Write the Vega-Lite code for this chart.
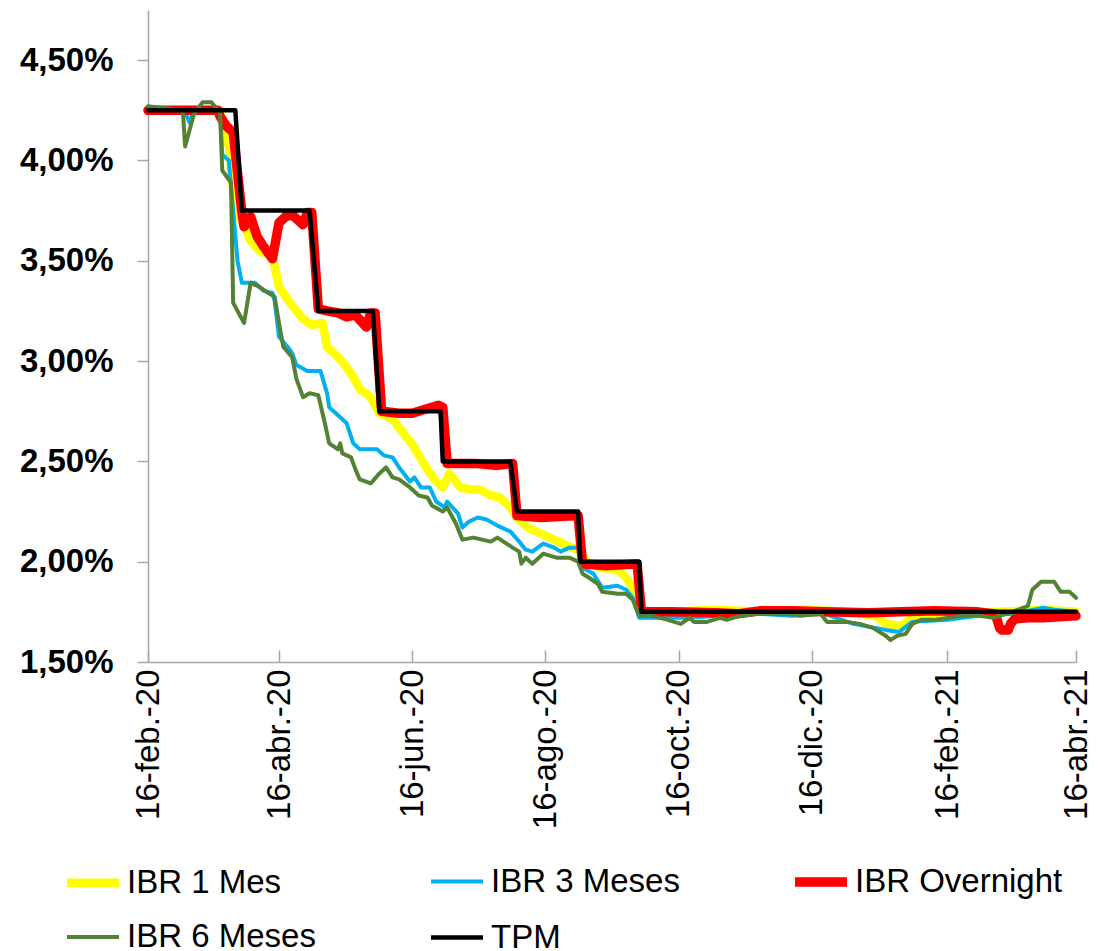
{
  "$schema": "https://vega.github.io/schema/vega-lite/v6.json",
  "width": 928,
  "height": 652,
  "padding": {"left": 19, "top": 10, "right": 5, "bottom": 5},
  "background": "white",
  "config": {"view": {"stroke": null}, "font": "Liberation Sans"},
  "data": {"values": [
    {"fecha": "2020-02-16", "serie": "IBR 1 Mes", "tasa": 4.25},
    {"fecha": "2020-03-01", "serie": "IBR 1 Mes", "tasa": 4.25},
    {"fecha": "2020-03-20", "serie": "IBR 1 Mes", "tasa": 4.25},
    {"fecha": "2020-03-21", "serie": "IBR 1 Mes", "tasa": 4.19},
    {"fecha": "2020-03-24", "serie": "IBR 1 Mes", "tasa": 4.07},
    {"fecha": "2020-03-26", "serie": "IBR 1 Mes", "tasa": 3.85},
    {"fecha": "2020-03-29", "serie": "IBR 1 Mes", "tasa": 3.72},
    {"fecha": "2020-04-03", "serie": "IBR 1 Mes", "tasa": 3.60},
    {"fecha": "2020-04-07", "serie": "IBR 1 Mes", "tasa": 3.55},
    {"fecha": "2020-04-13", "serie": "IBR 1 Mes", "tasa": 3.52},
    {"fecha": "2020-04-16", "serie": "IBR 1 Mes", "tasa": 3.37},
    {"fecha": "2020-04-18", "serie": "IBR 1 Mes", "tasa": 3.34},
    {"fecha": "2020-04-21", "serie": "IBR 1 Mes", "tasa": 3.29},
    {"fecha": "2020-04-24", "serie": "IBR 1 Mes", "tasa": 3.25},
    {"fecha": "2020-04-27", "serie": "IBR 1 Mes", "tasa": 3.21},
    {"fecha": "2020-05-01", "serie": "IBR 1 Mes", "tasa": 3.18},
    {"fecha": "2020-05-06", "serie": "IBR 1 Mes", "tasa": 3.19},
    {"fecha": "2020-05-08", "serie": "IBR 1 Mes", "tasa": 3.07},
    {"fecha": "2020-05-13", "serie": "IBR 1 Mes", "tasa": 3.02},
    {"fecha": "2020-05-17", "serie": "IBR 1 Mes", "tasa": 2.97},
    {"fecha": "2020-05-20", "serie": "IBR 1 Mes", "tasa": 2.92},
    {"fecha": "2020-05-23", "serie": "IBR 1 Mes", "tasa": 2.86},
    {"fecha": "2020-05-28", "serie": "IBR 1 Mes", "tasa": 2.82},
    {"fecha": "2020-06-01", "serie": "IBR 1 Mes", "tasa": 2.74},
    {"fecha": "2020-06-07", "serie": "IBR 1 Mes", "tasa": 2.71},
    {"fecha": "2020-06-12", "serie": "IBR 1 Mes", "tasa": 2.64},
    {"fecha": "2020-06-15", "serie": "IBR 1 Mes", "tasa": 2.60},
    {"fecha": "2020-06-18", "serie": "IBR 1 Mes", "tasa": 2.55},
    {"fecha": "2020-06-23", "serie": "IBR 1 Mes", "tasa": 2.46},
    {"fecha": "2020-06-27", "serie": "IBR 1 Mes", "tasa": 2.40},
    {"fecha": "2020-06-30", "serie": "IBR 1 Mes", "tasa": 2.37},
    {"fecha": "2020-07-03", "serie": "IBR 1 Mes", "tasa": 2.44},
    {"fecha": "2020-07-08", "serie": "IBR 1 Mes", "tasa": 2.37},
    {"fecha": "2020-07-13", "serie": "IBR 1 Mes", "tasa": 2.36},
    {"fecha": "2020-07-17", "serie": "IBR 1 Mes", "tasa": 2.36},
    {"fecha": "2020-07-22", "serie": "IBR 1 Mes", "tasa": 2.33},
    {"fecha": "2020-07-26", "serie": "IBR 1 Mes", "tasa": 2.32},
    {"fecha": "2020-07-31", "serie": "IBR 1 Mes", "tasa": 2.27},
    {"fecha": "2020-08-03", "serie": "IBR 1 Mes", "tasa": 2.22},
    {"fecha": "2020-08-08", "serie": "IBR 1 Mes", "tasa": 2.17},
    {"fecha": "2020-08-14", "serie": "IBR 1 Mes", "tasa": 2.14},
    {"fecha": "2020-08-20", "serie": "IBR 1 Mes", "tasa": 2.11},
    {"fecha": "2020-08-26", "serie": "IBR 1 Mes", "tasa": 2.08},
    {"fecha": "2020-08-31", "serie": "IBR 1 Mes", "tasa": 2.06},
    {"fecha": "2020-09-04", "serie": "IBR 1 Mes", "tasa": 2.00},
    {"fecha": "2020-09-10", "serie": "IBR 1 Mes", "tasa": 1.97},
    {"fecha": "2020-09-18", "serie": "IBR 1 Mes", "tasa": 1.96},
    {"fecha": "2020-09-22", "serie": "IBR 1 Mes", "tasa": 1.92},
    {"fecha": "2020-09-25", "serie": "IBR 1 Mes", "tasa": 1.87},
    {"fecha": "2020-09-27", "serie": "IBR 1 Mes", "tasa": 1.79},
    {"fecha": "2020-09-30", "serie": "IBR 1 Mes", "tasa": 1.74},
    {"fecha": "2020-10-13", "serie": "IBR 1 Mes", "tasa": 1.75},
    {"fecha": "2020-11-02", "serie": "IBR 1 Mes", "tasa": 1.76},
    {"fecha": "2020-11-22", "serie": "IBR 1 Mes", "tasa": 1.75},
    {"fecha": "2020-12-12", "serie": "IBR 1 Mes", "tasa": 1.76},
    {"fecha": "2021-01-01", "serie": "IBR 1 Mes", "tasa": 1.75},
    {"fecha": "2021-01-14", "serie": "IBR 1 Mes", "tasa": 1.73},
    {"fecha": "2021-01-19", "serie": "IBR 1 Mes", "tasa": 1.69},
    {"fecha": "2021-01-26", "serie": "IBR 1 Mes", "tasa": 1.68},
    {"fecha": "2021-01-31", "serie": "IBR 1 Mes", "tasa": 1.72},
    {"fecha": "2021-02-16", "serie": "IBR 1 Mes", "tasa": 1.74},
    {"fecha": "2021-03-12", "serie": "IBR 1 Mes", "tasa": 1.75},
    {"fecha": "2021-04-01", "serie": "IBR 1 Mes", "tasa": 1.76},
    {"fecha": "2021-04-16", "serie": "IBR 1 Mes", "tasa": 1.75},

    {"fecha": "2020-02-16", "serie": "IBR 3 Meses", "tasa": 4.25},
    {"fecha": "2020-03-02", "serie": "IBR 3 Meses", "tasa": 4.25},
    {"fecha": "2020-03-04", "serie": "IBR 3 Meses", "tasa": 4.24},
    {"fecha": "2020-03-06", "serie": "IBR 3 Meses", "tasa": 4.19},
    {"fecha": "2020-03-08", "serie": "IBR 3 Meses", "tasa": 4.25},
    {"fecha": "2020-03-20", "serie": "IBR 3 Meses", "tasa": 4.25},
    {"fecha": "2020-03-21", "serie": "IBR 3 Meses", "tasa": 4.03},
    {"fecha": "2020-03-24", "serie": "IBR 3 Meses", "tasa": 4.00},
    {"fecha": "2020-03-26", "serie": "IBR 3 Meses", "tasa": 3.75},
    {"fecha": "2020-03-28", "serie": "IBR 3 Meses", "tasa": 3.50},
    {"fecha": "2020-03-30", "serie": "IBR 3 Meses", "tasa": 3.39},
    {"fecha": "2020-04-05", "serie": "IBR 3 Meses", "tasa": 3.39},
    {"fecha": "2020-04-09", "serie": "IBR 3 Meses", "tasa": 3.35},
    {"fecha": "2020-04-13", "serie": "IBR 3 Meses", "tasa": 3.34},
    {"fecha": "2020-04-14", "serie": "IBR 3 Meses", "tasa": 3.30},
    {"fecha": "2020-04-16", "serie": "IBR 3 Meses", "tasa": 3.12},
    {"fecha": "2020-04-20", "serie": "IBR 3 Meses", "tasa": 3.07},
    {"fecha": "2020-04-22", "serie": "IBR 3 Meses", "tasa": 3.04},
    {"fecha": "2020-04-24", "serie": "IBR 3 Meses", "tasa": 2.98},
    {"fecha": "2020-04-29", "serie": "IBR 3 Meses", "tasa": 2.95},
    {"fecha": "2020-05-05", "serie": "IBR 3 Meses", "tasa": 2.95},
    {"fecha": "2020-05-08", "serie": "IBR 3 Meses", "tasa": 2.84},
    {"fecha": "2020-05-09", "serie": "IBR 3 Meses", "tasa": 2.77},
    {"fecha": "2020-05-14", "serie": "IBR 3 Meses", "tasa": 2.72},
    {"fecha": "2020-05-17", "serie": "IBR 3 Meses", "tasa": 2.69},
    {"fecha": "2020-05-20", "serie": "IBR 3 Meses", "tasa": 2.59},
    {"fecha": "2020-05-23", "serie": "IBR 3 Meses", "tasa": 2.56},
    {"fecha": "2020-05-31", "serie": "IBR 3 Meses", "tasa": 2.56},
    {"fecha": "2020-06-03", "serie": "IBR 3 Meses", "tasa": 2.53},
    {"fecha": "2020-06-07", "serie": "IBR 3 Meses", "tasa": 2.52},
    {"fecha": "2020-06-10", "serie": "IBR 3 Meses", "tasa": 2.47},
    {"fecha": "2020-06-15", "serie": "IBR 3 Meses", "tasa": 2.40},
    {"fecha": "2020-06-17", "serie": "IBR 3 Meses", "tasa": 2.42},
    {"fecha": "2020-06-20", "serie": "IBR 3 Meses", "tasa": 2.37},
    {"fecha": "2020-06-24", "serie": "IBR 3 Meses", "tasa": 2.37},
    {"fecha": "2020-06-27", "serie": "IBR 3 Meses", "tasa": 2.30},
    {"fecha": "2020-07-01", "serie": "IBR 3 Meses", "tasa": 2.27},
    {"fecha": "2020-07-02", "serie": "IBR 3 Meses", "tasa": 2.30},
    {"fecha": "2020-07-07", "serie": "IBR 3 Meses", "tasa": 2.24},
    {"fecha": "2020-07-09", "serie": "IBR 3 Meses", "tasa": 2.17},
    {"fecha": "2020-07-12", "serie": "IBR 3 Meses", "tasa": 2.20},
    {"fecha": "2020-07-16", "serie": "IBR 3 Meses", "tasa": 2.22},
    {"fecha": "2020-07-20", "serie": "IBR 3 Meses", "tasa": 2.21},
    {"fecha": "2020-07-25", "serie": "IBR 3 Meses", "tasa": 2.18},
    {"fecha": "2020-07-31", "serie": "IBR 3 Meses", "tasa": 2.15},
    {"fecha": "2020-08-04", "serie": "IBR 3 Meses", "tasa": 2.10},
    {"fecha": "2020-08-07", "serie": "IBR 3 Meses", "tasa": 2.06},
    {"fecha": "2020-08-10", "serie": "IBR 3 Meses", "tasa": 2.05},
    {"fecha": "2020-08-15", "serie": "IBR 3 Meses", "tasa": 2.09},
    {"fecha": "2020-08-20", "serie": "IBR 3 Meses", "tasa": 2.07},
    {"fecha": "2020-08-23", "serie": "IBR 3 Meses", "tasa": 2.05},
    {"fecha": "2020-08-27", "serie": "IBR 3 Meses", "tasa": 2.07},
    {"fecha": "2020-08-31", "serie": "IBR 3 Meses", "tasa": 2.07},
    {"fecha": "2020-09-02", "serie": "IBR 3 Meses", "tasa": 1.97},
    {"fecha": "2020-09-07", "serie": "IBR 3 Meses", "tasa": 1.94},
    {"fecha": "2020-09-11", "serie": "IBR 3 Meses", "tasa": 1.87},
    {"fecha": "2020-09-18", "serie": "IBR 3 Meses", "tasa": 1.88},
    {"fecha": "2020-09-22", "serie": "IBR 3 Meses", "tasa": 1.86},
    {"fecha": "2020-09-25", "serie": "IBR 3 Meses", "tasa": 1.82},
    {"fecha": "2020-09-28", "serie": "IBR 3 Meses", "tasa": 1.72},
    {"fecha": "2020-10-04", "serie": "IBR 3 Meses", "tasa": 1.72},
    {"fecha": "2020-10-20", "serie": "IBR 3 Meses", "tasa": 1.72},
    {"fecha": "2020-11-04", "serie": "IBR 3 Meses", "tasa": 1.73},
    {"fecha": "2020-11-22", "serie": "IBR 3 Meses", "tasa": 1.74},
    {"fecha": "2020-12-07", "serie": "IBR 3 Meses", "tasa": 1.73},
    {"fecha": "2020-12-22", "serie": "IBR 3 Meses", "tasa": 1.74},
    {"fecha": "2021-01-04", "serie": "IBR 3 Meses", "tasa": 1.69},
    {"fecha": "2021-01-19", "serie": "IBR 3 Meses", "tasa": 1.66},
    {"fecha": "2021-01-25", "serie": "IBR 3 Meses", "tasa": 1.65},
    {"fecha": "2021-01-31", "serie": "IBR 3 Meses", "tasa": 1.70},
    {"fecha": "2021-02-16", "serie": "IBR 3 Meses", "tasa": 1.71},
    {"fecha": "2021-03-02", "serie": "IBR 3 Meses", "tasa": 1.73},
    {"fecha": "2021-03-18", "serie": "IBR 3 Meses", "tasa": 1.74},
    {"fecha": "2021-03-27", "serie": "IBR 3 Meses", "tasa": 1.76},
    {"fecha": "2021-04-01", "serie": "IBR 3 Meses", "tasa": 1.77},
    {"fecha": "2021-04-06", "serie": "IBR 3 Meses", "tasa": 1.76},
    {"fecha": "2021-04-16", "serie": "IBR 3 Meses", "tasa": 1.75},

    {"fecha": "2020-02-16", "serie": "IBR Overnight", "tasa": 4.25},
    {"fecha": "2020-03-19", "serie": "IBR Overnight", "tasa": 4.25},
    {"fecha": "2020-03-20", "serie": "IBR Overnight", "tasa": 4.22},
    {"fecha": "2020-03-23", "serie": "IBR Overnight", "tasa": 4.17},
    {"fecha": "2020-03-26", "serie": "IBR Overnight", "tasa": 4.14},
    {"fecha": "2020-03-28", "serie": "IBR Overnight", "tasa": 3.94},
    {"fecha": "2020-03-30", "serie": "IBR Overnight", "tasa": 3.74},
    {"fecha": "2020-03-31", "serie": "IBR Overnight", "tasa": 3.67},
    {"fecha": "2020-04-03", "serie": "IBR Overnight", "tasa": 3.72},
    {"fecha": "2020-04-06", "serie": "IBR Overnight", "tasa": 3.62},
    {"fecha": "2020-04-09", "serie": "IBR Overnight", "tasa": 3.57},
    {"fecha": "2020-04-13", "serie": "IBR Overnight", "tasa": 3.51},
    {"fecha": "2020-04-16", "serie": "IBR Overnight", "tasa": 3.69},
    {"fecha": "2020-04-19", "serie": "IBR Overnight", "tasa": 3.72},
    {"fecha": "2020-04-22", "serie": "IBR Overnight", "tasa": 3.73},
    {"fecha": "2020-04-25", "serie": "IBR Overnight", "tasa": 3.70},
    {"fecha": "2020-04-27", "serie": "IBR Overnight", "tasa": 3.68},
    {"fecha": "2020-04-29", "serie": "IBR Overnight", "tasa": 3.74},
    {"fecha": "2020-05-01", "serie": "IBR Overnight", "tasa": 3.74},
    {"fecha": "2020-05-04", "serie": "IBR Overnight", "tasa": 3.26},
    {"fecha": "2020-05-08", "serie": "IBR Overnight", "tasa": 3.25},
    {"fecha": "2020-05-13", "serie": "IBR Overnight", "tasa": 3.24},
    {"fecha": "2020-05-17", "serie": "IBR Overnight", "tasa": 3.22},
    {"fecha": "2020-05-21", "serie": "IBR Overnight", "tasa": 3.23},
    {"fecha": "2020-05-26", "serie": "IBR Overnight", "tasa": 3.17},
    {"fecha": "2020-05-28", "serie": "IBR Overnight", "tasa": 3.24},
    {"fecha": "2020-05-30", "serie": "IBR Overnight", "tasa": 3.24},
    {"fecha": "2020-06-02", "serie": "IBR Overnight", "tasa": 2.75},
    {"fecha": "2020-06-10", "serie": "IBR Overnight", "tasa": 2.74},
    {"fecha": "2020-06-16", "serie": "IBR Overnight", "tasa": 2.74},
    {"fecha": "2020-06-22", "serie": "IBR Overnight", "tasa": 2.76},
    {"fecha": "2020-06-28", "serie": "IBR Overnight", "tasa": 2.78},
    {"fecha": "2020-06-30", "serie": "IBR Overnight", "tasa": 2.77},
    {"fecha": "2020-07-02", "serie": "IBR Overnight", "tasa": 2.49},
    {"fecha": "2020-07-15", "serie": "IBR Overnight", "tasa": 2.49},
    {"fecha": "2020-07-25", "serie": "IBR Overnight", "tasa": 2.48},
    {"fecha": "2020-08-01", "serie": "IBR Overnight", "tasa": 2.49},
    {"fecha": "2020-08-03", "serie": "IBR Overnight", "tasa": 2.23},
    {"fecha": "2020-08-14", "serie": "IBR Overnight", "tasa": 2.22},
    {"fecha": "2020-08-31", "serie": "IBR Overnight", "tasa": 2.23},
    {"fecha": "2020-09-02", "serie": "IBR Overnight", "tasa": 1.99},
    {"fecha": "2020-09-13", "serie": "IBR Overnight", "tasa": 1.98},
    {"fecha": "2020-09-27", "serie": "IBR Overnight", "tasa": 1.99},
    {"fecha": "2020-09-29", "serie": "IBR Overnight", "tasa": 1.75},
    {"fecha": "2020-10-13", "serie": "IBR Overnight", "tasa": 1.75},
    {"fecha": "2020-11-02", "serie": "IBR Overnight", "tasa": 1.745},
    {"fecha": "2020-11-12", "serie": "IBR Overnight", "tasa": 1.74},
    {"fecha": "2020-11-22", "serie": "IBR Overnight", "tasa": 1.755},
    {"fecha": "2020-12-07", "serie": "IBR Overnight", "tasa": 1.755},
    {"fecha": "2020-12-22", "serie": "IBR Overnight", "tasa": 1.75},
    {"fecha": "2021-01-11", "serie": "IBR Overnight", "tasa": 1.745},
    {"fecha": "2021-01-26", "serie": "IBR Overnight", "tasa": 1.75},
    {"fecha": "2021-02-10", "serie": "IBR Overnight", "tasa": 1.755},
    {"fecha": "2021-03-02", "serie": "IBR Overnight", "tasa": 1.75},
    {"fecha": "2021-03-10", "serie": "IBR Overnight", "tasa": 1.74},
    {"fecha": "2021-03-12", "serie": "IBR Overnight", "tasa": 1.67},
    {"fecha": "2021-03-13", "serie": "IBR Overnight", "tasa": 1.66},
    {"fecha": "2021-03-16", "serie": "IBR Overnight", "tasa": 1.66},
    {"fecha": "2021-03-17", "serie": "IBR Overnight", "tasa": 1.69},
    {"fecha": "2021-03-19", "serie": "IBR Overnight", "tasa": 1.715},
    {"fecha": "2021-03-25", "serie": "IBR Overnight", "tasa": 1.72},
    {"fecha": "2021-04-01", "serie": "IBR Overnight", "tasa": 1.72},
    {"fecha": "2021-04-16", "serie": "IBR Overnight", "tasa": 1.73},

    {"fecha": "2020-02-16", "serie": "IBR 6 Meses", "tasa": 4.27},
    {"fecha": "2020-02-24", "serie": "IBR 6 Meses", "tasa": 4.26},
    {"fecha": "2020-03-02", "serie": "IBR 6 Meses", "tasa": 4.25},
    {"fecha": "2020-03-03", "serie": "IBR 6 Meses", "tasa": 4.24},
    {"fecha": "2020-03-04", "serie": "IBR 6 Meses", "tasa": 4.07},
    {"fecha": "2020-03-08", "serie": "IBR 6 Meses", "tasa": 4.23},
    {"fecha": "2020-03-12", "serie": "IBR 6 Meses", "tasa": 4.29},
    {"fecha": "2020-03-16", "serie": "IBR 6 Meses", "tasa": 4.29},
    {"fecha": "2020-03-20", "serie": "IBR 6 Meses", "tasa": 4.24},
    {"fecha": "2020-03-21", "serie": "IBR 6 Meses", "tasa": 3.95},
    {"fecha": "2020-03-25", "serie": "IBR 6 Meses", "tasa": 3.89},
    {"fecha": "2020-03-26", "serie": "IBR 6 Meses", "tasa": 3.29},
    {"fecha": "2020-03-31", "serie": "IBR 6 Meses", "tasa": 3.19},
    {"fecha": "2020-04-03", "serie": "IBR 6 Meses", "tasa": 3.39},
    {"fecha": "2020-04-07", "serie": "IBR 6 Meses", "tasa": 3.37},
    {"fecha": "2020-04-11", "serie": "IBR 6 Meses", "tasa": 3.34},
    {"fecha": "2020-04-14", "serie": "IBR 6 Meses", "tasa": 3.32},
    {"fecha": "2020-04-16", "serie": "IBR 6 Meses", "tasa": 3.19},
    {"fecha": "2020-04-18", "serie": "IBR 6 Meses", "tasa": 3.07},
    {"fecha": "2020-04-22", "serie": "IBR 6 Meses", "tasa": 3.02},
    {"fecha": "2020-04-24", "serie": "IBR 6 Meses", "tasa": 2.91},
    {"fecha": "2020-04-27", "serie": "IBR 6 Meses", "tasa": 2.82},
    {"fecha": "2020-04-30", "serie": "IBR 6 Meses", "tasa": 2.84},
    {"fecha": "2020-05-04", "serie": "IBR 6 Meses", "tasa": 2.83},
    {"fecha": "2020-05-07", "serie": "IBR 6 Meses", "tasa": 2.69},
    {"fecha": "2020-05-09", "serie": "IBR 6 Meses", "tasa": 2.59},
    {"fecha": "2020-05-13", "serie": "IBR 6 Meses", "tasa": 2.56},
    {"fecha": "2020-05-14", "serie": "IBR 6 Meses", "tasa": 2.59},
    {"fecha": "2020-05-15", "serie": "IBR 6 Meses", "tasa": 2.54},
    {"fecha": "2020-05-19", "serie": "IBR 6 Meses", "tasa": 2.52},
    {"fecha": "2020-05-21", "serie": "IBR 6 Meses", "tasa": 2.46},
    {"fecha": "2020-05-23", "serie": "IBR 6 Meses", "tasa": 2.41},
    {"fecha": "2020-05-28", "serie": "IBR 6 Meses", "tasa": 2.39},
    {"fecha": "2020-06-01", "serie": "IBR 6 Meses", "tasa": 2.44},
    {"fecha": "2020-06-04", "serie": "IBR 6 Meses", "tasa": 2.47},
    {"fecha": "2020-06-07", "serie": "IBR 6 Meses", "tasa": 2.42},
    {"fecha": "2020-06-10", "serie": "IBR 6 Meses", "tasa": 2.41},
    {"fecha": "2020-06-15", "serie": "IBR 6 Meses", "tasa": 2.37},
    {"fecha": "2020-06-19", "serie": "IBR 6 Meses", "tasa": 2.33},
    {"fecha": "2020-06-23", "serie": "IBR 6 Meses", "tasa": 2.32},
    {"fecha": "2020-06-25", "serie": "IBR 6 Meses", "tasa": 2.28},
    {"fecha": "2020-06-30", "serie": "IBR 6 Meses", "tasa": 2.25},
    {"fecha": "2020-07-02", "serie": "IBR 6 Meses", "tasa": 2.27},
    {"fecha": "2020-07-06", "serie": "IBR 6 Meses", "tasa": 2.19},
    {"fecha": "2020-07-09", "serie": "IBR 6 Meses", "tasa": 2.11},
    {"fecha": "2020-07-14", "serie": "IBR 6 Meses", "tasa": 2.12},
    {"fecha": "2020-07-22", "serie": "IBR 6 Meses", "tasa": 2.10},
    {"fecha": "2020-07-25", "serie": "IBR 6 Meses", "tasa": 2.12},
    {"fecha": "2020-08-01", "serie": "IBR 6 Meses", "tasa": 2.07},
    {"fecha": "2020-08-04", "serie": "IBR 6 Meses", "tasa": 2.05},
    {"fecha": "2020-08-05", "serie": "IBR 6 Meses", "tasa": 1.99},
    {"fecha": "2020-08-07", "serie": "IBR 6 Meses", "tasa": 2.02},
    {"fecha": "2020-08-10", "serie": "IBR 6 Meses", "tasa": 1.99},
    {"fecha": "2020-08-15", "serie": "IBR 6 Meses", "tasa": 2.04},
    {"fecha": "2020-08-21", "serie": "IBR 6 Meses", "tasa": 2.02},
    {"fecha": "2020-08-27", "serie": "IBR 6 Meses", "tasa": 2.02},
    {"fecha": "2020-08-31", "serie": "IBR 6 Meses", "tasa": 2.00},
    {"fecha": "2020-09-02", "serie": "IBR 6 Meses", "tasa": 1.94},
    {"fecha": "2020-09-05", "serie": "IBR 6 Meses", "tasa": 1.92},
    {"fecha": "2020-09-09", "serie": "IBR 6 Meses", "tasa": 1.89},
    {"fecha": "2020-09-11", "serie": "IBR 6 Meses", "tasa": 1.85},
    {"fecha": "2020-09-18", "serie": "IBR 6 Meses", "tasa": 1.84},
    {"fecha": "2020-09-22", "serie": "IBR 6 Meses", "tasa": 1.84},
    {"fecha": "2020-09-25", "serie": "IBR 6 Meses", "tasa": 1.81},
    {"fecha": "2020-09-28", "serie": "IBR 6 Meses", "tasa": 1.73},
    {"fecha": "2020-10-04", "serie": "IBR 6 Meses", "tasa": 1.73},
    {"fecha": "2020-10-11", "serie": "IBR 6 Meses", "tasa": 1.71},
    {"fecha": "2020-10-17", "serie": "IBR 6 Meses", "tasa": 1.69},
    {"fecha": "2020-10-21", "serie": "IBR 6 Meses", "tasa": 1.72},
    {"fecha": "2020-10-23", "serie": "IBR 6 Meses", "tasa": 1.70},
    {"fecha": "2020-10-29", "serie": "IBR 6 Meses", "tasa": 1.70},
    {"fecha": "2020-11-04", "serie": "IBR 6 Meses", "tasa": 1.72},
    {"fecha": "2020-11-07", "serie": "IBR 6 Meses", "tasa": 1.71},
    {"fecha": "2020-11-13", "serie": "IBR 6 Meses", "tasa": 1.73},
    {"fecha": "2020-11-22", "serie": "IBR 6 Meses", "tasa": 1.74},
    {"fecha": "2020-12-05", "serie": "IBR 6 Meses", "tasa": 1.74},
    {"fecha": "2020-12-11", "serie": "IBR 6 Meses", "tasa": 1.73},
    {"fecha": "2020-12-20", "serie": "IBR 6 Meses", "tasa": 1.74},
    {"fecha": "2020-12-23", "serie": "IBR 6 Meses", "tasa": 1.70},
    {"fecha": "2021-01-01", "serie": "IBR 6 Meses", "tasa": 1.70},
    {"fecha": "2021-01-07", "serie": "IBR 6 Meses", "tasa": 1.69},
    {"fecha": "2021-01-13", "serie": "IBR 6 Meses", "tasa": 1.67},
    {"fecha": "2021-01-19", "serie": "IBR 6 Meses", "tasa": 1.63},
    {"fecha": "2021-01-21", "serie": "IBR 6 Meses", "tasa": 1.61},
    {"fecha": "2021-01-24", "serie": "IBR 6 Meses", "tasa": 1.63},
    {"fecha": "2021-01-28", "serie": "IBR 6 Meses", "tasa": 1.64},
    {"fecha": "2021-01-31", "serie": "IBR 6 Meses", "tasa": 1.69},
    {"fecha": "2021-02-04", "serie": "IBR 6 Meses", "tasa": 1.71},
    {"fecha": "2021-02-10", "serie": "IBR 6 Meses", "tasa": 1.71},
    {"fecha": "2021-02-16", "serie": "IBR 6 Meses", "tasa": 1.72},
    {"fecha": "2021-02-22", "serie": "IBR 6 Meses", "tasa": 1.73},
    {"fecha": "2021-03-03", "serie": "IBR 6 Meses", "tasa": 1.73},
    {"fecha": "2021-03-09", "serie": "IBR 6 Meses", "tasa": 1.72},
    {"fecha": "2021-03-18", "serie": "IBR 6 Meses", "tasa": 1.75},
    {"fecha": "2021-03-25", "serie": "IBR 6 Meses", "tasa": 1.78},
    {"fecha": "2021-03-27", "serie": "IBR 6 Meses", "tasa": 1.86},
    {"fecha": "2021-03-31", "serie": "IBR 6 Meses", "tasa": 1.90},
    {"fecha": "2021-04-06", "serie": "IBR 6 Meses", "tasa": 1.90},
    {"fecha": "2021-04-09", "serie": "IBR 6 Meses", "tasa": 1.85},
    {"fecha": "2021-04-13", "serie": "IBR 6 Meses", "tasa": 1.85},
    {"fecha": "2021-04-16", "serie": "IBR 6 Meses", "tasa": 1.82},

    {"fecha": "2020-02-16", "serie": "TPM", "tasa": 4.25},
    {"fecha": "2020-03-27", "serie": "TPM", "tasa": 4.25},
    {"fecha": "2020-03-30", "serie": "TPM", "tasa": 3.75},
    {"fecha": "2020-04-30", "serie": "TPM", "tasa": 3.75},
    {"fecha": "2020-05-04", "serie": "TPM", "tasa": 3.25},
    {"fecha": "2020-05-29", "serie": "TPM", "tasa": 3.25},
    {"fecha": "2020-06-01", "serie": "TPM", "tasa": 2.75},
    {"fecha": "2020-06-29", "serie": "TPM", "tasa": 2.75},
    {"fecha": "2020-06-30", "serie": "TPM", "tasa": 2.50},
    {"fecha": "2020-07-31", "serie": "TPM", "tasa": 2.50},
    {"fecha": "2020-08-03", "serie": "TPM", "tasa": 2.25},
    {"fecha": "2020-08-31", "serie": "TPM", "tasa": 2.25},
    {"fecha": "2020-09-01", "serie": "TPM", "tasa": 2.00},
    {"fecha": "2020-09-28", "serie": "TPM", "tasa": 2.00},
    {"fecha": "2020-09-29", "serie": "TPM", "tasa": 1.75},
    {"fecha": "2021-04-16", "serie": "TPM", "tasa": 1.75}
  ]},
  "mark": {"type": "line", "strokeJoin": "round", "strokeCap": "round"},
  "encoding": {
    "x": {
      "field": "fecha", "type": "temporal",
      "scale": {"type": "utc", "domain": [{"year": 2020, "month": 2, "date": 16, "utc": true}, {"year": 2021, "month": 4, "date": 16, "utc": true}]},
      "axis": {
        "title": null, "grid": false,
        "values": [
          {"year": 2020, "month": 2, "date": 16, "utc": true},
          {"year": 2020, "month": 4, "date": 16, "utc": true},
          {"year": 2020, "month": 6, "date": 16, "utc": true},
          {"year": 2020, "month": 8, "date": 16, "utc": true},
          {"year": 2020, "month": 10, "date": 16, "utc": true},
          {"year": 2020, "month": 12, "date": 16, "utc": true},
          {"year": 2021, "month": 2, "date": 16, "utc": true},
          {"year": 2021, "month": 4, "date": 16, "utc": true}
        ],
        "labelExpr": "utcFormat(datum.value, '%d') + '-' + ['ene.','feb.','mar.','abr.','may.','jun.','jul.','ago.','sep.','oct.','nov.','dic.'][utcmonth(datum.value)] + '-' + utcFormat(datum.value, '%y')",
        "labelAngle": -90,
        "labelFont": "Liberation Sans", "labelFontSize": 33, "labelColor": "#000000",
        "labelPadding": 19, "labelFlush": false, "labelOverlap": false,
        "tickSize": -12, "tickColor": "#a6a6a6", "tickWidth": 1.5,
        "domainColor": "#a6a6a6", "domainWidth": 1.5
      }
    },
    "y": {
      "field": "tasa", "type": "quantitative",
      "scale": {"domain": [1.5, 4.75], "nice": false, "zero": false},
      "axis": {
        "title": null, "grid": false,
        "values": [1.5, 2, 2.5, 3, 3.5, 4, 4.5],
        "labelExpr": "replace(format(datum.value, '.2f'), '.', ',') + '%'",
        "labelFont": "Liberation Sans", "labelFontSize": 33, "labelFontWeight": "bold", "labelColor": "#000000",
        "labelPadding": 24, "labelFlush": false,
        "tickSize": 11, "tickColor": "#a6a6a6", "tickWidth": 1.5,
        "domainColor": "#a6a6a6", "domainWidth": 1.5
      }
    },
    "color": {
      "field": "serie", "type": "nominal",
      "scale": {"domain": ["IBR 1 Mes", "IBR 3 Meses", "IBR Overnight", "IBR 6 Meses", "TPM"], "range": ["#ffff00", "#00b0f0", "#ff0000", "#548235", "#000000"]},
      "legend": {
        "title": null, "orient": "none", "direction": "horizontal", "legendX": -86, "legendY": 841, "columns": 3, "gridAlign": "all",
        "symbolType": "stroke", "symbolSize": 2704, "labelFont": "Liberation Sans", "labelFontSize": 33, "labelColor": "#000000",
        "labelOffset": 3, "columnPadding": 77, "rowPadding": 8, "padding": 0, "labelLimit": 400
      }
    },
    "strokeWidth": {
      "field": "serie", "type": "nominal",
      "scale": {"type": "ordinal", "domain": ["IBR 1 Mes", "IBR 3 Meses", "IBR Overnight", "IBR 6 Meses", "TPM"], "range": [8.5, 4, 9.5, 4, 4.5]},
      "legend": {
        "title": null, "orient": "none", "direction": "horizontal", "legendX": -86, "legendY": 841, "columns": 3, "gridAlign": "all",
        "symbolType": "stroke", "symbolSize": 2704, "labelFont": "Liberation Sans", "labelFontSize": 33, "labelColor": "#000000",
        "labelOffset": 3, "columnPadding": 77, "rowPadding": 8, "padding": 0, "labelLimit": 400
      }
    }
  }
}
